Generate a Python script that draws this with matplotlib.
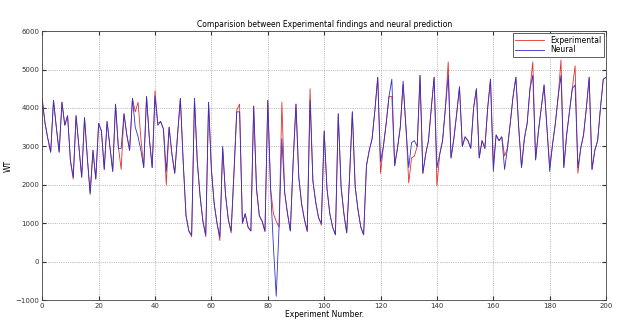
import numpy as np
import matplotlib
matplotlib.use("Agg")
import matplotlib.pyplot as plt

# values, experiment 0..200
experimental = [
    4250, 3600, 3200, 2850, 4200, 3500, 2850, 4150, 3550, 3800,
    2600, 2150, 3800, 3000, 2200, 3750, 2700, 1800, 2900, 2150,
    3600, 3400, 2400, 3650, 3000, 2350, 4100, 3000, 2400, 3850,
    3300, 2900, 4250, 3900, 4150, 3200, 2450, 4300, 3200, 2450,
    4450, 3600, 3650, 3450, 2000, 3500, 2800, 2300, 3300, 4250,
    2600, 1200, 800, 650, 4250, 2600, 1700, 1050, 650, 4150,
    2400, 1500, 1000, 550, 2950, 1750, 1100, 750, 2300, 3950,
    4100, 1000, 1250, 900, 800, 4050, 1900, 1200, 1050, 780,
    4200, 1900, 1250, 1050, 900, 4150, 1800, 1250, 800, 2600,
    4100, 2200, 1500, 1100, 780, 4500, 2100, 1550, 1150, 950,
    3400, 1900, 1250, 900, 700, 3850, 1950, 1250, 750, 2200,
    3900, 1950, 1350, 900, 700, 2500, 2900, 3200, 3950, 4800,
    2300, 3000, 3600, 4300, 4300, 2500, 2950, 3500, 4600, 3500,
    2050, 2700, 2750, 3000, 4850, 2300, 2800, 3150, 4000, 4800,
    1980, 2800, 3150, 4000, 5200, 2700, 3200, 3850, 4550, 3000,
    3250, 3150, 2950, 4000, 4500, 2700, 3150, 2950, 4000, 4750,
    2550, 3300, 3150, 3250, 2750, 2950, 3600, 4300, 4800, 3500,
    2450, 3200, 3600, 4500, 5200, 2650, 3400, 4000, 4600, 3500,
    2500, 3050, 3600, 4300, 5250, 2450, 3300, 3900, 4500, 5100,
    2300, 2950, 3300, 4000, 4800, 2400, 2900, 3150, 4000, 4750,
    4800,
]

neural = [
    4200, 3600, 3200, 2850, 4200, 3500, 2850, 4150, 3550, 3800,
    2650, 2200, 3800, 3000, 2200, 3750, 2700, 1750, 2900, 2150,
    3600, 3400, 2400, 3650, 3000, 2350, 4100, 2950, 2950, 3850,
    3300, 2900, 4250, 3500, 3250, 2900, 2450, 4300, 3200, 2450,
    4300, 3550, 3650, 3450, 2350, 3500, 2800, 2300, 3300, 4250,
    2600, 1200, 800, 700, 4250, 2600, 1700, 1050, 700, 4150,
    2400, 1500, 1000, 650, 3000, 1750, 1100, 800, 2300, 3900,
    3900, 1000, 1250, 900, 800, 4050, 1900, 1200, 1050, 800,
    4200, 1900, 400, -900, 900, 3200, 1800, 1250, 800, 2600,
    4100, 2200, 1500, 1100, 800, 4200, 2100, 1550, 1150, 1000,
    3400, 1900, 1250, 900, 700, 3850, 1950, 1250, 750, 2200,
    3900, 1950, 1350, 900, 700, 2500, 2900, 3200, 3950, 4800,
    2600, 3000, 3600, 4300, 4750, 2500, 2950, 3500, 4700, 3500,
    2450, 3100, 3150, 3000, 4850, 2300, 2800, 3150, 4000, 4800,
    2450, 2800, 3150, 4000, 4850, 2700, 3200, 3850, 4550, 3000,
    3250, 3150, 2950, 4000, 4500, 2700, 3150, 2950, 4000, 4750,
    2350, 3300, 3150, 3250, 2400, 2950, 3600, 4300, 4800, 3500,
    2450, 3200, 3600, 4500, 4850, 2650, 3400, 4000, 4600, 3500,
    2350, 3050, 3600, 4300, 4850, 2450, 3300, 3900, 4500, 4600,
    2450, 2950, 3300, 4000, 4800, 2400, 2900, 3150, 4000, 4750,
    4800,
]

x = np.arange(len(experimental))

plt.rcParams['font.family'] = 'DejaVu Sans'
fig = plt.figure(figsize=(6.21, 3.21), dpi=100)
ax = fig.add_axes([0.068, 0.065, 0.908, 0.838])

ax.plot(x, experimental, color='#e03030', lw=0.6, label='Experimental')
ax.plot(x, neural, color='#3030d0', lw=0.6, label='Neural')

ax.set_xlim(0, 200)
ax.set_ylim(-1000, 6000)
ax.set_xticks(range(0, 201, 20))
ax.set_yticks(range(-1000, 6001, 1000))
ax.tick_params(direction='in', top=True, right=True, labelsize=5, length=3, pad=2,
               colors='#333333')
for s in ax.spines.values():
    s.set_linewidth(0.6)
    s.set_color('#444444')
ax.grid(True, linestyle=':', color='#888888', lw=0.5)

ax.set_title('Comparision between Experimental findings and neural prediction', fontsize=5.5, pad=3)
ax.set_xlabel('Experiment Number.', fontsize=5.5, labelpad=1)
ax.set_ylabel('WT', fontsize=5.5, labelpad=2)

leg = ax.legend(loc='upper right', fontsize=5.5, fancybox=False, framealpha=1,
                edgecolor='#444444', borderpad=0.3, handlelength=3.8, labelspacing=0.1,
                borderaxespad=0.3)
leg.get_frame().set_linewidth(0.6)

fig.savefig('out.png', dpi=100)
